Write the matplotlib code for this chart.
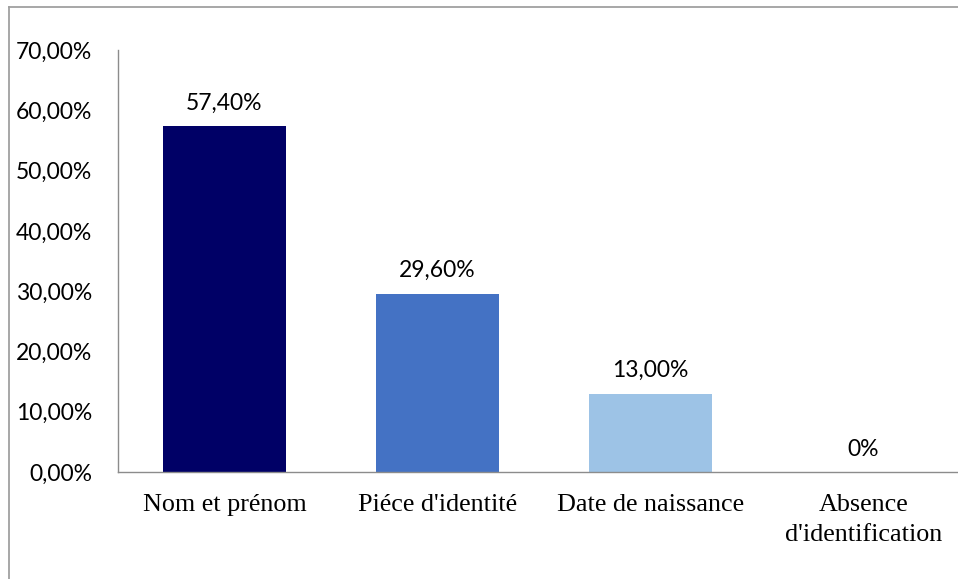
import matplotlib
matplotlib.use("Agg")
import matplotlib.pyplot as plt
from matplotlib.lines import Line2D

categories = ["Nom et prénom", "Piéce d'identité", "Date de naissance", "Absence\nd'identification"]
values = [57.40, 29.60, 13.00, 0.0]
value_labels = ["57,40%", "29,60%", "13,00%", "0%"]
colors = ["#000066", "#4472C4", "#9DC3E6", "#A5A5A5"]
yticks = [0, 10, 20, 30, 40, 50, 60, 70]
ytick_labels = ["0,00%", "10,00%", "20,00%", "30,00%", "40,00%", "50,00%", "60,00%", "70,00%"]

W, H = 958, 579
fig = plt.figure(figsize=(W / 100, H / 100), dpi=100)
fig.patch.set_facecolor("white")

# plot area: left spine at x=118, baseline at y=472, top tick at y=50
ax = fig.add_axes([118 / W, (H - 472) / H, (970 - 118) / W, (472 - 50) / H])
x = list(range(len(categories)))
ax.bar(x, values, width=0.573, color=colors, zorder=2)
ax.set_xlim(-0.5, len(categories) - 0.5)
ax.set_ylim(0, 70)

ax.set_yticks(yticks)
ax.set_yticklabels(ytick_labels, fontfamily="Lato", fontsize=16.5, color="#000000")
ax.set_xticks(x)
ax.set_xticklabels(categories, fontfamily="Liberation Serif", fontsize=18.8, color="#000000",
                   linespacing=1.45)
ax.tick_params(axis="both", length=0)
ax.tick_params(axis="y", pad=18.5)
ax.tick_params(axis="x", pad=16)

for s in ["top", "right"]:
    ax.spines[s].set_visible(False)
for s in ["left", "bottom"]:
    ax.spines[s].set_color("#8C8C8C")
    ax.spines[s].set_linewidth(1.0)

for xi, v, lab in zip(x, values, value_labels):
    ax.annotate(lab, (xi, v), xytext=(0, 9), textcoords="offset points",
                ha="center", va="bottom", fontfamily="Lato", fontsize=16.5, color="#000000")

# outer chart frame (top and left edges)
fig.add_artist(Line2D([9 / W, 1.0], [1 - 7 / H, 1 - 7 / H], transform=fig.transFigure,
                      color="#A0A0A0", linewidth=1.3))
fig.add_artist(Line2D([9 / W, 9 / W], [0.0, 1 - 7 / H], transform=fig.transFigure,
                      color="#A0A0A0", linewidth=1.3))

fig.savefig("out.png", dpi=100, facecolor="white")
